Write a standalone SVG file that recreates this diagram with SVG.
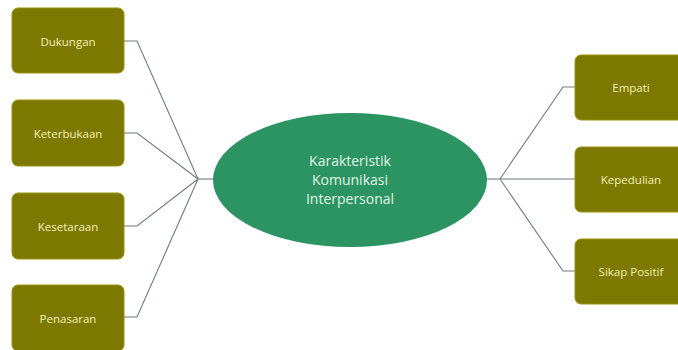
<svg xmlns="http://www.w3.org/2000/svg" width="678" height="350" viewBox="0 0 678 350">
<style>
.box{fill:#7d7800;stroke:#9a9410;stroke-width:1}
.lbl{font-family:"Open Sans","Liberation Sans",sans-serif;font-size:11.5px;fill:#f2f0b8;text-anchor:middle;dominant-baseline:central}
.ctr{font-family:"Open Sans","Liberation Sans",sans-serif;font-size:14px;fill:#e2f4e8;text-anchor:middle}
.con{fill:none;stroke:#737a80;stroke-width:1.1}
</style>
<rect width="678" height="350" fill="#ffffff"/>
<g id="connectors">
<polyline class="con" points="124,41 137,41 198,179"/>
<polyline class="con" points="124,133 137,133 198,179"/>
<polyline class="con" points="124,226 137,226 198,179"/>
<polyline class="con" points="124,317 137,317 198,179"/>
<line class="con" x1="198" y1="179" x2="214" y2="179"/>
<line class="con" x1="486" y1="179" x2="500" y2="179"/>
<polyline class="con" points="500,179 563,87 575,87"/>
<line class="con" x1="500" y1="179" x2="575" y2="179"/>
<polyline class="con" points="500,179 563,271 575,271"/>
</g>
<g id="center">
<ellipse cx="350" cy="180" rx="137" ry="67" fill="#2b9462"/>
<text class="ctr" x="350" y="166">Karakteristik</text>
<text class="ctr" x="350" y="185">Komunikasi</text>
<text class="ctr" x="350" y="204">Interpersonal</text>
</g>
<g id="dukungan"><rect class="box" x="12" y="8" width="112" height="65" rx="6"/><text class="lbl" x="68" y="41">Dukungan</text></g>
<g id="keterbukaan"><rect class="box" x="12" y="100" width="112" height="66" rx="6"/><text class="lbl" x="68" y="133">Keterbukaan</text></g>
<g id="kesetaraan"><rect class="box" x="12" y="193" width="112" height="66" rx="6"/><text class="lbl" x="68" y="226">Kesetaraan</text></g>
<g id="penasaran"><rect class="box" x="12" y="285" width="112" height="66" rx="6"/><text class="lbl" x="68" y="318">Penasaran</text></g>
<g id="empati"><rect class="box" x="575" y="55" width="112" height="65" rx="6"/><text class="lbl" x="631" y="87">Empati</text></g>
<g id="kepedulian"><rect class="box" x="575" y="147" width="112" height="65" rx="6"/><text class="lbl" x="631" y="179">Kepedulian</text></g>
<g id="sikap-positif"><rect class="box" x="575" y="239" width="112" height="65" rx="6"/><text class="lbl" x="631" y="271">Sikap Positif</text></g>
</svg>
